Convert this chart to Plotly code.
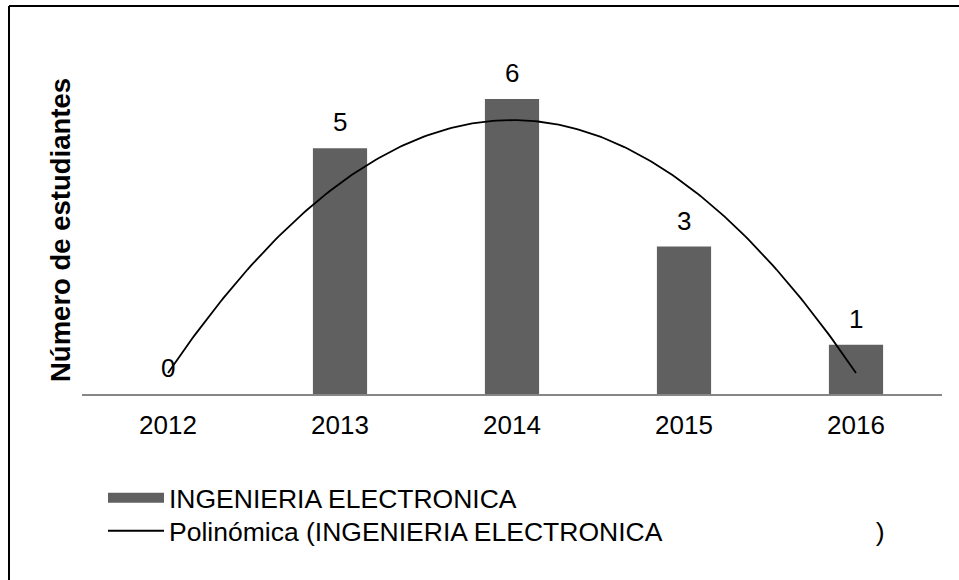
import numpy as np
import plotly.graph_objects as go

years = ["2012", "2013", "2014", "2015", "2016"]
students = [0, 5, 6, 3, 1]
series_name = "INGENIERIA ELECTRONICA"
trend_name = "Polinómica (INGENIERIA ELECTRONICA" + "\u00a0" * 29 + ")"
y_title = "Número de estudiantes"

FONT = "Arial, Liberation Sans, sans-serif"
BAR_COLOR = "#606060"

xpos = np.arange(len(years))
# quadratic (polynomial order 2) trendline fitted to the data
coef = np.polyfit(xpos, students, 2)
xt = np.linspace(xpos[0], xpos[-1], 200)
yt = np.polyval(coef, xt)

fig = go.Figure()
fig.add_trace(go.Bar(
    x=xpos, y=students, name=series_name, width=0.315,
    marker=dict(color=BAR_COLOR, line=dict(width=0)),
    showlegend=False, legendgroup="bars",
))
# legend entry for the bars, drawn as a wide block like the original
fig.add_trace(go.Scatter(
    x=[None], y=[None], mode="lines", name=series_name,
    line=dict(color=BAR_COLOR, width=12), legendgroup="bars", showlegend=True,
    legend="legend",
))
fig.add_trace(go.Scatter(
    x=xt, y=yt, mode="lines", name=trend_name,
    line=dict(color="black", width=1.8), showlegend=True, legend="legend2",
))

for xi, v in zip(xpos, students):
    fig.add_annotation(x=xi, y=v, text=str(v), showarrow=False,
                       yanchor="middle", yshift=26,
                       font=dict(family=FONT, size=26, color="black"))

fig.add_annotation(x=(60 - 82) / 860, y=(394 - 230) / 354, xref="paper", yref="paper",
                   text="<b>" + y_title + "</b>", textangle=-90, showarrow=False,
                   xanchor="center", yanchor="middle",
                   font=dict(family=FONT, size=27.5, color="black"))

# chart outer border (top and left edges visible)
fig.add_shape(type="line", xref="paper", yref="paper",
              x0=(9 - 82) / 860, x1=1.05, y0=(394 - 6) / 354, y1=(394 - 6) / 354,
              line=dict(color="black", width=2))
fig.add_shape(type="line", xref="paper", yref="paper",
              x0=(9 - 82) / 860, x1=(9 - 82) / 860, y0=(394 - 6) / 354, y1=-0.6,
              line=dict(color="black", width=2))

legend_common = dict(
    orientation="v", xanchor="left", yanchor="top",
    font=dict(family=FONT, size=26.5, color="black"),
    itemwidth=56, tracegroupgap=0, bgcolor="rgba(0,0,0,0)",
)

fig.update_layout(
    width=959, height=580,
    margin=dict(l=82, r=17, t=40, b=186),
    paper_bgcolor="white", plot_bgcolor="white",
    font=dict(family=FONT, size=26, color="black"),
    bargap=0.685,
    xaxis=dict(
        tickmode="array", tickvals=list(xpos), ticktext=years,
        range=[-0.5, 4.5], showgrid=False, zeroline=False,
        showline=True, linecolor="#868686", linewidth=2,
        ticks="", tickfont=dict(size=26, family=FONT), ticklabelstandoff=7,
    ),
    yaxis=dict(range=[0, 7.2], showgrid=False, zeroline=False,
               showline=False, showticklabels=False, ticks=""),
    legend=dict(x=(103 - 82) / 860, y=(394 - 474) / 354, **legend_common),
    legend2=dict(x=(103 - 82) / 860, y=(394 - 507) / 354, **legend_common),
)

fig.write_html("out.html", config={"displayModeBar": False},
               post_script="document.body.style.margin='0';")
